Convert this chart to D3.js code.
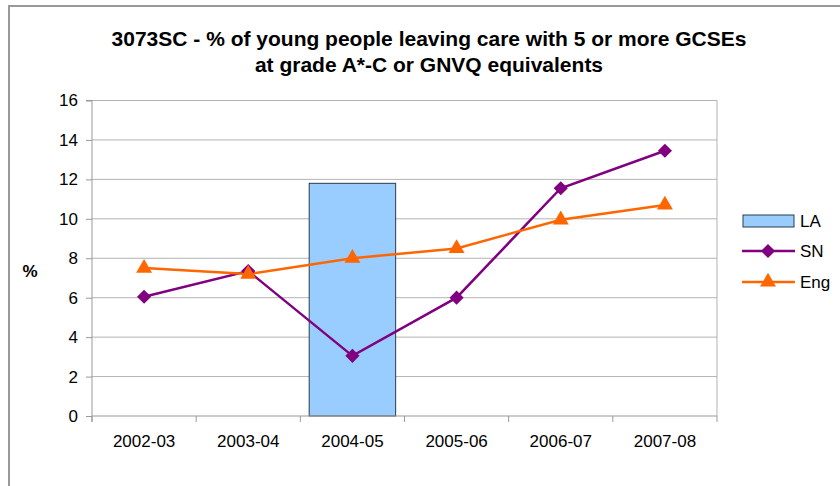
<!DOCTYPE html>
<html><head><meta charset="utf-8">
<script src="https://cdn.jsdelivr.net/npm/d3@7"></script>
<style>body{margin:0;background:#fff}svg{display:block}text{font-family:"Liberation Sans",Arial,sans-serif}</style>
</head><body>
<script>
const categories = ["2002-03","2003-04","2004-05","2005-06","2006-07","2007-08"];
const laValues = [null, null, 11.8, null, null, null];
const snValues = [6.05, 7.35, 3.05, 6.0, 11.55, 13.45];
const engValues = [7.5, 7.2, 8.0, 8.5, 9.95, 10.7];
const yTicks = [0,2,4,6,8,10,12,14,16];
const titleLines = ["3073SC - % of young people leaving care with 5 or more GCSEs","at grade A*-C or GNVQ equivalents"];

const W=840,H=486;
const svg=d3.select("body").append("svg").attr("width",W).attr("height",H);
svg.append("rect").attr("x",9).attr("y",6).attr("width",W).attr("height",H).attr("fill","#fff").attr("stroke","#999").attr("stroke-width",2);

const L=92,R=717,T=100.5,B=416;
const x=d3.scaleBand().domain(categories).range([L,R]);
const y=d3.scaleLinear().domain([0,16]).range([B,T]);

// gridlines
svg.append("g").selectAll("line").data(yTicks.filter(d=>d>0)).join("line")
 .attr("x1",L).attr("x2",R).attr("y1",d=>y(d)).attr("y2",d=>y(d)).attr("stroke","#b3b3b3").attr("stroke-width",1);
svg.append("line").attr("x1",R).attr("x2",R).attr("y1",T).attr("y2",B).attr("stroke","#b3b3b3");

// bars
const bw=x.bandwidth()*0.83;
svg.append("g").selectAll("rect").data(categories.map((c,i)=>({c,v:laValues[i]})).filter(d=>d.v!=null)).join("rect")
 .attr("x",d=>x(d.c)+(x.bandwidth()-bw)/2).attr("width",bw).attr("y",d=>y(d.v)).attr("height",d=>y(0)-y(d.v))
 .attr("fill","#99ccff").attr("stroke","#2b3a4a").attr("stroke-width",1);

// axes
const yAxis=svg.append("g").attr("transform",`translate(${L},0)`).call(d3.axisLeft(y).tickValues(yTicks).tickSize(6).tickPadding(8).tickFormat(d3.format("d")));
const xAxis=svg.append("g").attr("transform",`translate(0,${B})`).call(d3.axisBottom(x).tickSize(0).tickPadding(19));
xAxis.selectAll(".tick line").remove();
svg.append("g").selectAll("line").data(d3.range(categories.length+1)).join("line")
 .attr("x1",i=>L+i*x.step()).attr("x2",i=>L+i*x.step()).attr("y1",B).attr("y2",B+6).attr("stroke","#999");
[yAxis,xAxis].forEach(g=>{g.select(".domain").attr("stroke","#999");g.selectAll(".tick line").attr("stroke","#999");
 g.selectAll("text").attr("font-size",17).attr("fill","#000").style("font-family","'Liberation Sans',Arial,sans-serif");});
yAxis.select(".domain").attr("d",`M-6,${T}H0V${B+6}`);
xAxis.select(".domain").attr("d",`M${L},0H${R}`);

const cx=c=>x(c)+x.bandwidth()/2;
const line=d3.line().x((d,i)=>cx(categories[i])).y(d=>y(d));
svg.append("path").datum(snValues).attr("d",line).attr("fill","none").attr("stroke","#800080").attr("stroke-width",2.5);
svg.append("path").datum(engValues).attr("d",line).attr("fill","none").attr("stroke","#ff6600").attr("stroke-width",2.5);
const diamond=d3.symbol().type(d3.symbolSquare).size(100);
const tri=d3.symbol().type(d3.symbolTriangle).size(110);
svg.append("g").selectAll("path").data(snValues).join("path").attr("d",diamond)
 .attr("transform",(d,i)=>`translate(${cx(categories[i])},${y(d)}) rotate(45)`).attr("fill","#800080");
svg.append("g").selectAll("path").data(engValues).join("path").attr("d",tri)
 .attr("transform",(d,i)=>`translate(${cx(categories[i])},${y(d)})`).attr("fill","#ff6600");

// title
svg.append("g").selectAll("text").data(titleLines).join("text")
 .attr("x",429).attr("y",(d,i)=>46+i*26).attr("text-anchor","middle").attr("font-size",21).attr("font-weight","bold").text(d=>d);

// y label
svg.append("text").attr("x",30).attr("y",277).attr("text-anchor","middle").attr("font-size",17).attr("font-weight","bold").text("%");

// legend
const lg=svg.append("g");
lg.append("rect").attr("x",743).attr("y",215).attr("width",51).attr("height",12).attr("fill","#99ccff").attr("stroke","#2b3a4a");
lg.append("text").attr("x",800).attr("y",227).attr("font-size",17).text("LA");
lg.append("line").attr("x1",742).attr("x2",795).attr("y1",251).attr("y2",251).attr("stroke","#800080").attr("stroke-width",2.5);
lg.append("path").attr("d",diamond).attr("transform","translate(768,251) rotate(45)").attr("fill","#800080");
lg.append("text").attr("x",800).attr("y",257).attr("font-size",17).text("SN");
lg.append("line").attr("x1",742).attr("x2",795).attr("y1",282).attr("y2",282).attr("stroke","#ff6600").attr("stroke-width",2.5);
lg.append("path").attr("d",tri).attr("transform","translate(768,282)").attr("fill","#ff6600");
lg.append("text").attr("x",800).attr("y",288).attr("font-size",17).text("Eng");
</script>
</body></html>
